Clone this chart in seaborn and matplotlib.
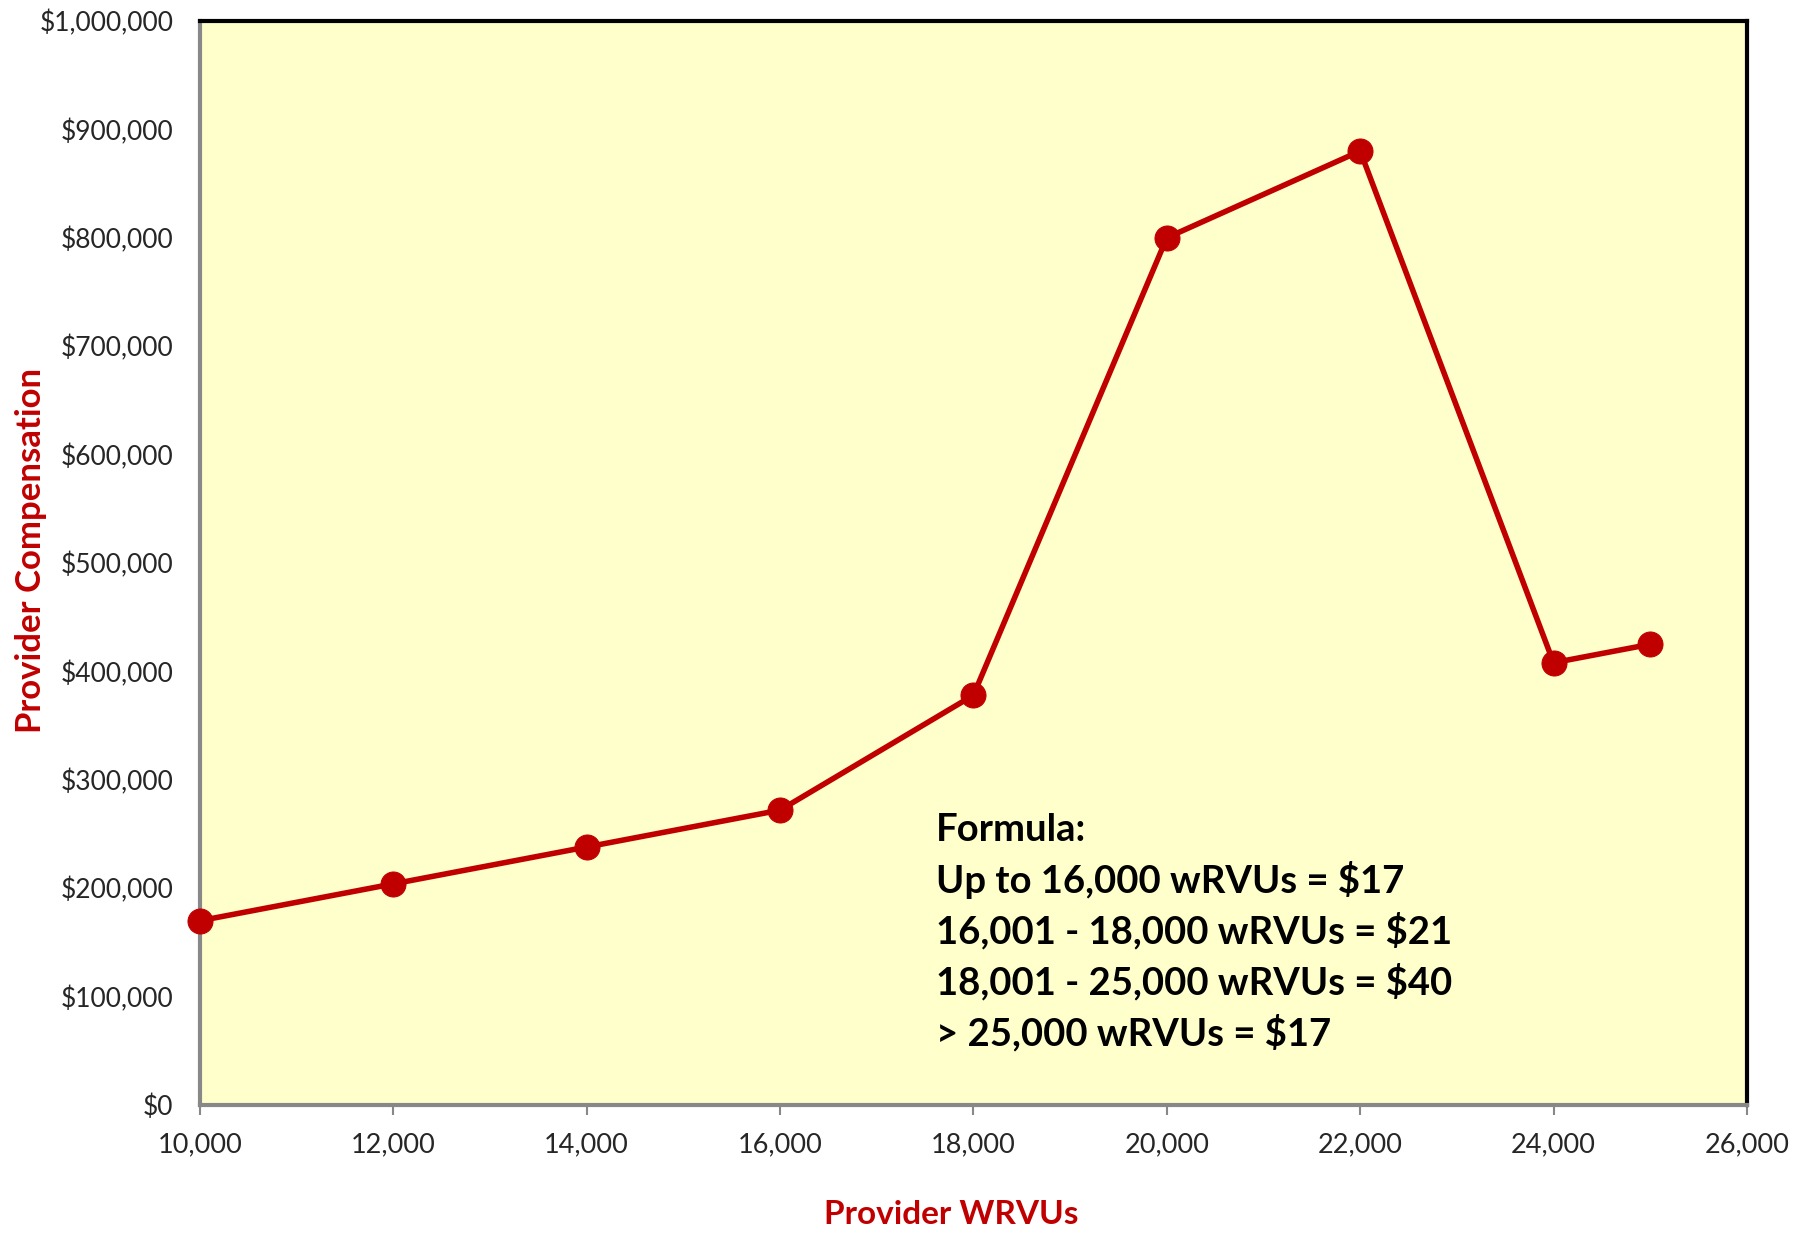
import matplotlib.pyplot as plt
import matplotlib.ticker as mticker
import pandas as pd
import seaborn as sns

# datos
wrvus = [10000, 12000, 14000, 16000, 18000, 20000, 22000, 24000, 25000]
compensacion = [170000, 204000, 238000, 272000, 378000, 800000, 880000, 408000, 425000]
formula = ['Formula:',
           'Up to 16,000 wRVUs = $17',
           '16,001 - 18,000 wRVUs = $21',
           '18,001 - 25,000 wRVUs = $40',
           '> 25,000 wRVUs = $17']

df = pd.DataFrame({'wrvus': wrvus, 'comp': compensacion})

sns.set_style('white')
plt.rcParams['font.family'] = ['Lato', 'DejaVu Sans']

rojo = '#C00000'
fig, ax = plt.subplots(figsize=(17.93, 12.33), dpi=100)
fig.subplots_adjust(left=0.1115, right=0.9743, top=0.983, bottom=0.1038)

sns.lineplot(data=df, x='wrvus', y='comp', ax=ax, color=rojo, linewidth=4,
             marker='o', markersize=18, markeredgecolor=rojo, markerfacecolor=rojo,
             clip_on=False, zorder=5)

ax.set_facecolor('#FFFFCC')
ax.set_xlim(10000, 26000)
ax.set_ylim(0, 1000000)
ax.set_xticks(range(10000, 26001, 2000))
ax.set_yticks(range(0, 1000001, 100000))
ax.xaxis.set_major_formatter(mticker.FuncFormatter(lambda v, p: f'{v:,.0f}'))
ax.yaxis.set_major_formatter(mticker.FuncFormatter(lambda v, p: f'${v:,.0f}'))
ax.tick_params(axis='x', length=7, width=1.5, color='#888888', labelsize=19.5, pad=13, bottom=True)
ax.tick_params(axis='y', length=0, labelsize=19, pad=19, left=False)

for lado in ['top', 'right']:
    ax.spines[lado].set_color('black')
    ax.spines[lado].set_linewidth(3)
for lado in ['left', 'bottom']:
    ax.spines[lado].set_color('#888888')
    ax.spines[lado].set_linewidth(3)

ax.set_xlabel('Provider WRVUs', fontsize=24, fontweight='bold', color=rojo)
ax.set_ylabel('Provider Compensation', fontsize=25, fontweight='bold', color=rojo)
ax.xaxis.set_label_coords(0.4855, -0.088)
ax.yaxis.set_label_coords(-0.099, 0.512)

ax.text(0.476, 0.269, '\n'.join(formula), transform=ax.transAxes, fontsize=27.5,
        fontweight='bold', va='top', ha='left', linespacing=1.42, color='black')

fig.savefig('out.png', dpi=100)
